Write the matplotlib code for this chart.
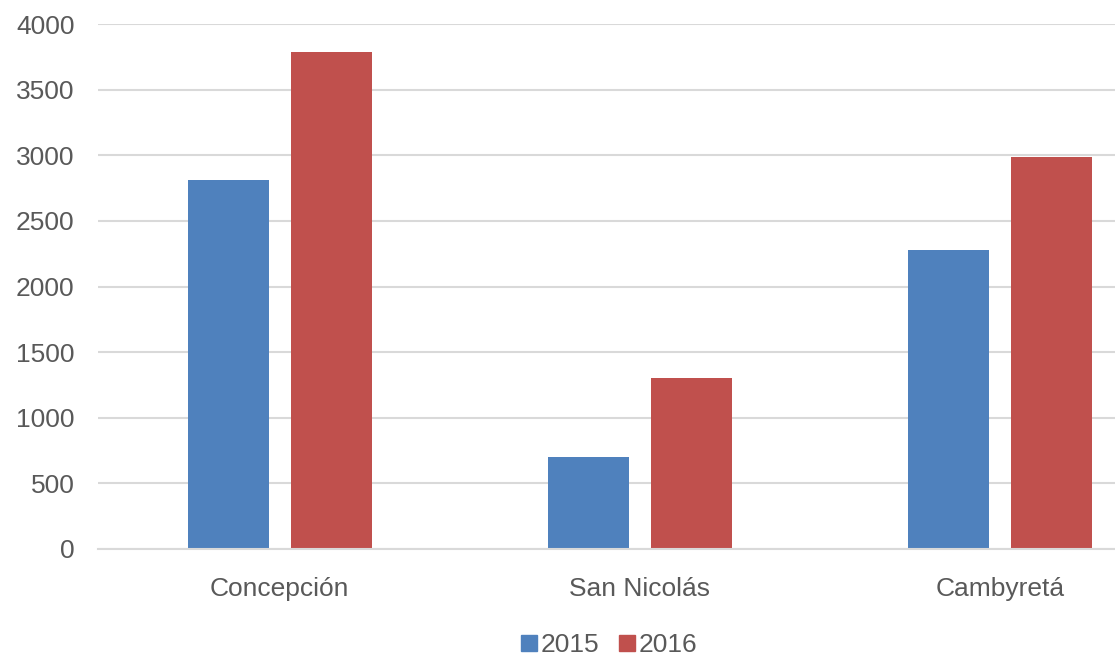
import numpy as np
import matplotlib
matplotlib.use("Agg")
import matplotlib.pyplot as plt
from matplotlib.lines import Line2D

categories = ["Concepción", "San Nicolás", "Cambyretá"]
series_names = ["2015", "2016"]
values_2015 = [2810, 700, 2280]
values_2016 = [3790, 1300, 2990]
yticks = [0, 500, 1000, 1500, 2000, 2500, 3000, 3500, 4000]

plt.rcParams["font.family"] = ["Liberation Sans", "DejaVu Sans"]

fig = plt.figure(figsize=(11.15, 6.58), dpi=100)
ax = fig.add_axes([98 / 1115, 1 - 549 / 658, 1 - 98 / 1115, 525 / 658])

x = np.arange(len(categories))
width = 0.225
offset = 0.143
blue = "#4F81BD"
red = "#C0504D"

ax.bar(x - offset, values_2015, width, color=blue, zorder=3)
ax.bar(x + offset, values_2016, width, color=red, zorder=3)

ax.set_xlim(-0.505, -0.505 + 1017 / 360)
ax.set_ylim(0, 4000)
ax.set_yticks(yticks)
ax.set_xticks(x)
ax.set_xticklabels(categories)

ax.grid(axis="y", color="#d9d9d9", linewidth=1.5, zorder=0)
for s in ["top", "right", "left"]:
    ax.spines[s].set_visible(False)
ax.spines["bottom"].set_color("#d9d9d9")
ax.spines["bottom"].set_linewidth(1.5)
ax.spines["bottom"].set_zorder(4)

ax.tick_params(axis="both", length=0, labelsize=19, colors="#595959")
ax.tick_params(axis="y", pad=17)
ax.tick_params(axis="x", pad=20)

handles = [Line2D([], [], marker="s", linestyle="none", markersize=11, color=c)
           for c in (blue, red)]
fig.legend(handles, series_names, loc="center", bbox_to_anchor=(607 / 1115, 1 - 645 / 658),
           ncol=2, frameon=False, fontsize=19, handletextpad=0.0, columnspacing=0.6,
           handlelength=0.9, labelcolor="#595959")

fig.savefig("out.png", dpi=100)
